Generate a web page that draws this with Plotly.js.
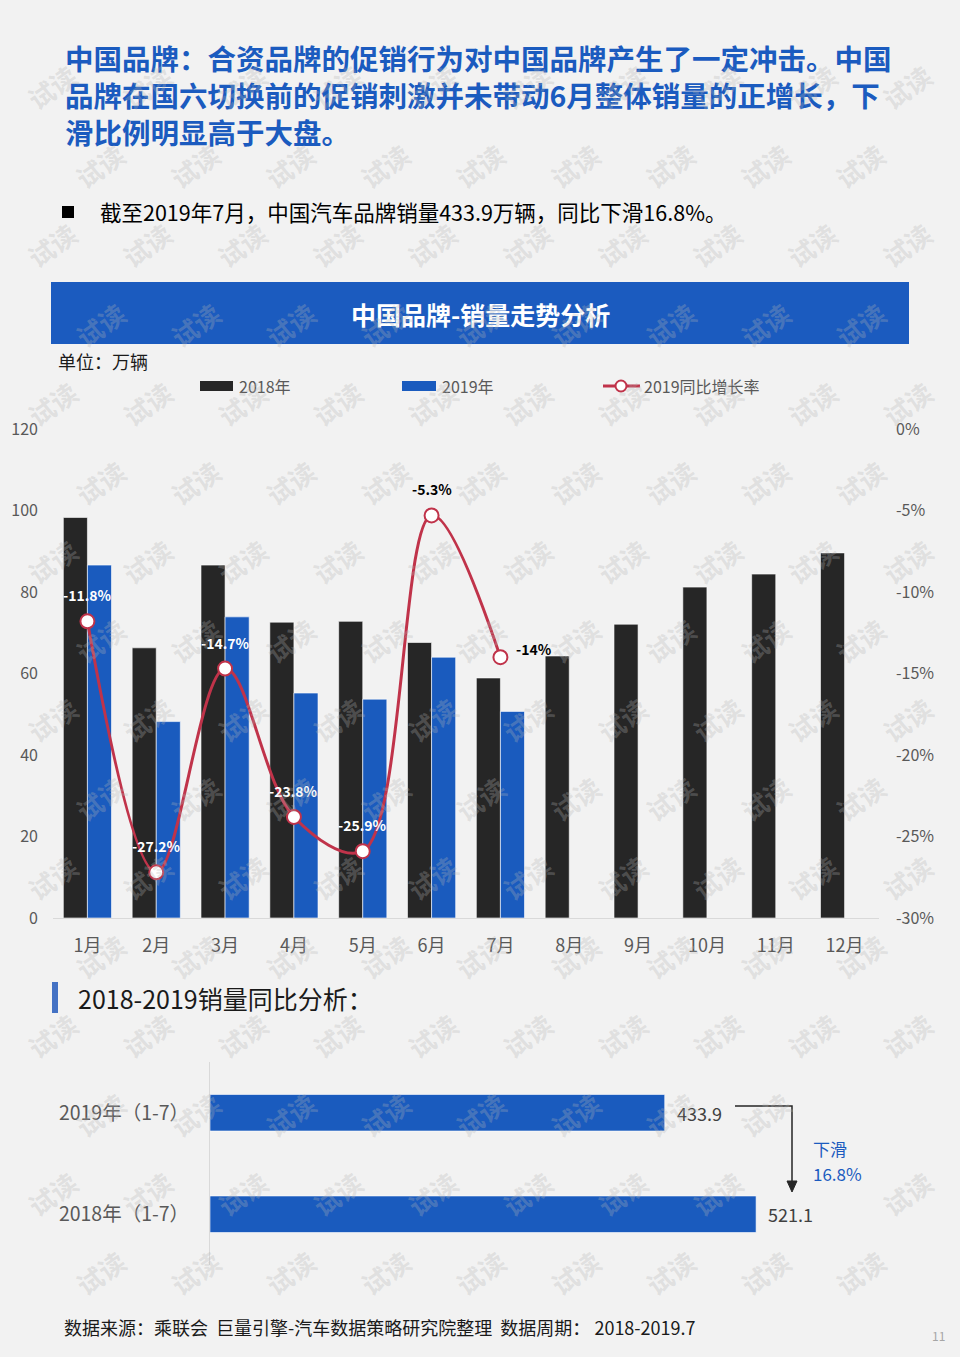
<!DOCTYPE html>
<html>
<head>
<meta charset="utf-8">
<script src="https://cdn.plot.ly/plotly-3.0.1.min.js"></script>
<style>
  html, body { margin: 0; padding: 0; background: #F2F2F2; }
  #chart { width: 960px; height: 1357px; }
</style>
</head>
<body>
<div id="chart"></div>
<script>
// ---------- data ----------
const months = ['1月', '2月', '3月', '4月', '5月', '6月', '7月', '8月', '9月', '10月', '11月', '12月'];
const sales2018 = [98.3, 66.3, 86.6, 72.6, 72.8, 67.6, 58.9, 64.3, 72.1, 81.2, 84.4, 89.6];
const sales2019 = [86.6, 48.2, 73.9, 55.2, 53.7, 64.0, 50.7];
const growth2019 = [-11.8, -27.2, -14.7, -23.8, -25.9, -5.3, -14];
const growthTicks = [0, -5, -10, -15, -20, -25, -30];
const growthTickLabels = ['0%', '-5%', '-10%', '-15%', '-20%', '-25%', '-30%'];
const seriesNames = ['2018年', '2019年', '2019同比增长率'];

const ytdCategories = ['2018年（1-7）', '2019年（1-7）'];
const ytdValues = [521.1, 433.9];
const ytdDecline = '16.8%';

// ---------- helpers (pixel -> paper) ----------
const W = 960, H = 1357;
const px = x => x / W;
const py = y => 1 - y / H;
const FONT = '"Noto Sans CJK SC", "Noto Sans", sans-serif';
const BLUE = '#1B5BBF';
const BAR18 = '#262626';
const BAR19 = '#1A5BBE';
const RED = '#C0334A';

const traces = [
  {
    type: 'bar', name: seriesNames[0], x: months, y: sales2018,
    marker: { color: BAR18, line: { color: '#FFFFFF', width: 0.6 } },
    xaxis: 'x', yaxis: 'y', hoverinfo: 'x+y'
  },
  {
    type: 'bar', name: seriesNames[1], x: months.slice(0, sales2019.length), y: sales2019,
    marker: { color: BAR19, line: { color: '#FFFFFF', width: 0.6 } },
    xaxis: 'x', yaxis: 'y', hoverinfo: 'x+y'
  },
  {
    type: 'scatter', mode: 'lines+markers', name: seriesNames[2],
    x: months.slice(0, growth2019.length), y: growth2019,
    line: { color: RED, width: 3, shape: 'spline', smoothing: 1 },
    marker: { symbol: 'circle', size: 14, color: '#FFFFFF', line: { color: RED, width: 2 } },
    xaxis: 'x', yaxis: 'y2', cliponaxis: false
  },
  {
    type: 'bar', orientation: 'h', x: ytdValues, y: ytdCategories,
    width: 0.36,
    marker: { color: BAR19, line: { color: '#FFFFFF', width: 0.6 } },
    xaxis: 'x3', yaxis: 'y3', hoverinfo: 'x+y'
  }
];

const annotations = [];
const shapes = [];

// title (one block)
const titleLines = [
  '中国品牌：合资品牌的促销行为对中国品牌产生了一定冲击。中国',
  '品牌在国六切换前的促销刺激并未带动6月整体销量的正增长，下',
  '滑比例明显高于大盘。'
];
annotations.push({
  xref: 'paper', yref: 'paper', x: px(63), y: py(94), xanchor: 'left', yanchor: 'middle', align: 'left',
  text: '<b>' + titleLines.join('<br>') + '</b>', showarrow: false,
  font: { family: FONT, size: 28.5, color: BLUE }
});

// bullet
shapes.push({ type: 'rect', xref: 'paper', yref: 'paper', x0: px(62), x1: px(74), y0: py(218), y1: py(206),
  fillcolor: '#000000', line: { width: 0 } });
annotations.push({
  xref: 'paper', yref: 'paper', x: px(98), y: py(212), xanchor: 'left', yanchor: 'middle',
  text: '截至2019年7月，中国汽车品牌销量433.9万辆，同比下滑16.8%。', showarrow: false,
  font: { family: FONT, size: 21.5, color: '#000000' }
});

// banner
shapes.push({ type: 'rect', xref: 'paper', yref: 'paper', x0: px(51), x1: px(909), y0: py(344), y1: py(282),
  fillcolor: BLUE, line: { width: 0 }, layer: 'below' });
annotations.push({
  xref: 'paper', yref: 'paper', x: px(480), y: py(314), xanchor: 'center', yanchor: 'middle',
  text: '<b>中国品牌-销量走势分析</b>', showarrow: false, font: { family: FONT, size: 25, color: '#FFFFFF' }
});
annotations.push({
  xref: 'paper', yref: 'paper', x: px(56), y: py(361), xanchor: 'left', yanchor: 'middle',
  text: '单位：万辆', showarrow: false, font: { family: FONT, size: 18, color: '#1A1A1A' }
});

// custom legend
const legY = 386;
shapes.push({ type: 'rect', xref: 'paper', yref: 'paper', x0: px(200), x1: px(233), y0: py(391), y1: py(381),
  fillcolor: BAR18, line: { width: 0 } });
shapes.push({ type: 'rect', xref: 'paper', yref: 'paper', x0: px(402), x1: px(436), y0: py(391), y1: py(381),
  fillcolor: BAR19, line: { width: 0 } });
shapes.push({ type: 'line', xref: 'paper', yref: 'paper', x0: px(603), x1: px(640), y0: py(legY), y1: py(legY),
  line: { color: RED, width: 3 } });
shapes.push({ type: 'circle', xref: 'paper', yref: 'paper', x0: px(615.5), x1: px(626.5), y0: py(391.5), y1: py(380.5),
  fillcolor: '#FFFFFF', line: { color: RED, width: 2 } });
[[237, 0], [440, 1], [642, 2]].forEach(([lx, i]) => annotations.push({
  xref: 'paper', yref: 'paper', x: px(lx), y: py(legY), xanchor: 'left', yanchor: 'middle',
  text: seriesNames[i], showarrow: false, font: { family: FONT, size: 16, color: '#595959' }
}));

// growth labels
const labelColors = ['#FFFFFF', '#FFFFFF', '#FFFFFF', '#FFFFFF', '#FFFFFF', '#000000', '#000000'];
growth2019.forEach((v, i) => {
  const last = i === growth2019.length - 1;
  annotations.push({
    xref: 'x', yref: 'y2', x: months[i], y: v,
    xshift: last ? 34 : 0, yshift: last ? 8 : 26,
    text: '<b>' + v + '%</b>', showarrow: false,
    font: { family: FONT, size: 14, color: labelColors[i] }
  });
});

// section 2 header
shapes.push({ type: 'rect', xref: 'paper', yref: 'paper', x0: px(52), x1: px(58), y0: py(1013), y1: py(982),
  fillcolor: '#4472C4', line: { width: 0 } });
annotations.push({
  xref: 'paper', yref: 'paper', x: px(76), y: py(998), xanchor: 'left', yanchor: 'middle',
  text: '2018-2019销量同比分析：', showarrow: false, font: { family: FONT, size: 25, color: '#1A1A1A' }
});

// ytd value labels
ytdValues.forEach((v, i) => annotations.push({
  xref: 'x3', yref: 'y3', x: v, y: ytdCategories[i], xanchor: 'left', yanchor: 'middle', xshift: 10,
  text: v.toFixed(1), showarrow: false, font: { family: FONT, size: 18, color: '#404040' }
}));

// decline arrow (elbow line + triangular head)
shapes.push({ type: 'path', xref: 'paper', yref: 'paper',
  path: `M ${px(735)},${py(1106)} L ${px(792)},${py(1106)} L ${px(792)},${py(1182)}`,
  line: { color: '#262626', width: 1.5 } });
shapes.push({ type: 'path', xref: 'paper', yref: 'paper',
  path: `M ${px(787)},${py(1181)} L ${px(797)},${py(1181)} L ${px(792)},${py(1192)} Z`,
  fillcolor: '#262626', line: { color: '#262626', width: 1 } });
[['下滑', 1148], [ytdDecline, 1173]].forEach(([t, yy]) => annotations.push({
  xref: 'paper', yref: 'paper', x: px(811), y: py(yy), xanchor: 'left', yanchor: 'middle',
  text: t, showarrow: false, font: { family: FONT, size: 17, color: BLUE }
}));

// footer
annotations.push({
  xref: 'paper', yref: 'paper', x: px(62), y: py(1327), xanchor: 'left', yanchor: 'middle',
  text: '数据来源：乘联会  巨量引擎-汽车数据策略研究院整理  数据周期： 2018-2019.7', showarrow: false,
  font: { family: FONT, size: 18, color: '#1A1A1A' }
});
annotations.push({
  xref: 'paper', yref: 'paper', x: px(938), y: py(1335), xanchor: 'center', yanchor: 'middle',
  text: '11', showarrow: false, font: { family: FONT, size: 12, color: '#A6A6A6' }
});

// watermark (only fully-visible ones, not over the decline note)
for (let r = 0; r < 18; r++) {
  const yy = 8 + r * 79;
  const off = r % 2 === 0 ? 100 : 52;
  for (let xx = off - 95; xx < W + 60; xx += 95) {
    if (xx - 32 < 0 || xx + 32 > W || yy - 26 < 0 || yy + 26 > H) continue;
    if (Math.abs(xx - 835) < 60 && Math.abs(yy - 1162) < 50) continue;
    annotations.push({
      xref: 'paper', yref: 'paper', x: px(xx), y: py(yy), xanchor: 'center', yanchor: 'middle',
      text: '<b>试读</b>', showarrow: false, textangle: -35, captureevents: false,
      font: { family: FONT, size: 26, color: 'rgba(180,180,180,0.30)' }
    });
  }
}

const layout = {
  width: W, height: H,
  margin: { l: 0, r: 0, t: 0, b: 0, pad: 0 },
  paper_bgcolor: '#F2F2F2', plot_bgcolor: 'rgba(0,0,0,0)',
  font: { family: FONT, color: '#595959' },
  barmode: 'group', bargap: 0.30, bargroupgap: 0,
  showlegend: false,
  xaxis: {
    domain: [px(53), px(879)], anchor: 'y', type: 'category', range: [-0.5, 11.5],
    showline: true, linecolor: '#D9D9D9', linewidth: 1, ticks: '',
    tickfont: { family: FONT, size: 18, color: '#595959' }, ticklabelstandoff: 11,
    showgrid: false, zeroline: false, fixedrange: true, automargin: false
  },
  yaxis: {
    domain: [py(918), py(429)], anchor: 'x', range: [0, 120], dtick: 20,
    showgrid: false, zeroline: false, showline: false, ticks: '',
    tickfont: { family: FONT, size: 16, color: '#595959' }, ticklabelstandoff: 14, fixedrange: true,
    automargin: false
  },
  yaxis2: {
    overlaying: 'y', anchor: 'x', side: 'right', range: [-30, 0],
    tickvals: growthTicks, ticktext: growthTickLabels,
    showgrid: false, zeroline: false, showline: false, ticks: '',
    tickfont: { family: FONT, size: 16, color: '#595959' }, ticklabelstandoff: 16, fixedrange: true,
    automargin: false
  },
  xaxis3: {
    domain: [px(210), px(210 + 1.048 * 600)], anchor: 'y3', range: [0, 600],
    visible: false, fixedrange: true
  },
  yaxis3: {
    domain: [py(1265), py(1062)], anchor: 'x3', type: 'category',
    showline: true, linecolor: '#D9D9D9', linewidth: 1, ticks: '',
    showgrid: false, zeroline: false,
    tickfont: { family: FONT, size: 19.5, color: '#595959' }, ticklabelstandoff: 16, fixedrange: true,
    automargin: false
  },
  shapes: shapes,
  annotations: annotations
};

Plotly.newPlot('chart', traces, layout, { displayModeBar: false, staticPlot: true });
</script>
</body>
</html>
